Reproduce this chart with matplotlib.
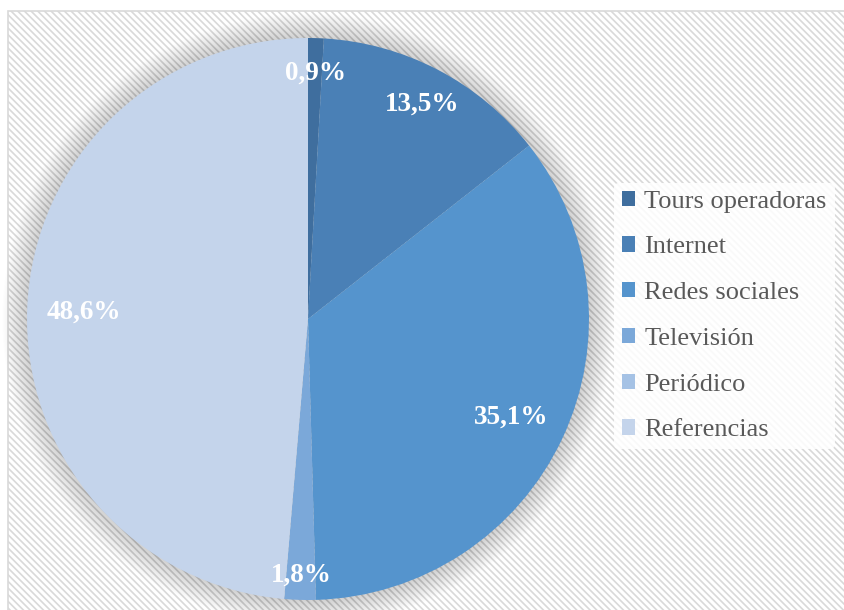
import numpy as np
import matplotlib.pyplot as plt
from matplotlib.patches import Rectangle, Circle

# --- DATA ---
CATEGORIES = ['Tours operadoras', 'Internet', 'Redes sociales',
              'Televisión', 'Periódico', 'Referencias']
VALUES = [0.9, 13.5, 35.1, 1.8, 0.0, 48.6]
COLORS = ['#3F6E9E', '#4A80B6', '#5594CD', '#7BA8D9', '#A5C2E5', '#C4D4EB']

# radial position of each percentage label (Excel "best fit" look)
LABEL_DIST = [0.885, 0.875, 0.80, 0.90, 0.86, 0.80]

W, H = 844, 610

plt.rcParams['font.family'] = ['Liberation Serif', 'DejaVu Serif']
plt.rcParams['hatch.linewidth'] = 1.2
plt.rcParams['hatch.color'] = '#EEEEEE'

fig = plt.figure(figsize=(W / 100, H / 100), dpi=100)
fig.patch.set_facecolor('white')

# background axes for the chart area with a light diagonal texture
bg = fig.add_axes([0, 0, 1, 1], zorder=-5)
bg.set_xlim(0, W)
bg.set_ylim(H, 0)
bg.axis('off')
bg.add_patch(Rectangle((8, 11), W, H, facecolor='white', edgecolor='#D9D9D9',
                       linewidth=1.2, hatch='\\\\\\\\\\'))

# pie axes: centre (308, 319), radius 281 px
r_px = 281
ax = fig.add_axes([(308 - r_px) / W, (H - 319 - r_px) / H,
                   2 * r_px / W, 2 * r_px / H])


def fmt_pct(p):
    if p < 0.05:
        return ''
    return f'{p:.1f}%'.replace('.', ',')


wedges, texts, autotexts = ax.pie(
    VALUES, colors=COLORS, startangle=90, counterclock=False,
    autopct=fmt_pct, pctdistance=1.0, radius=1.0,
    wedgeprops=dict(edgecolor='none'),
    textprops=dict(color='white', fontsize=19.5, fontweight='bold'))
for w in wedges:
    w.set_zorder(2)
for t, d in zip(autotexts, LABEL_DIST):
    x, y = t.get_position()
    t.set_position((x * d, y * d))
    t.set_va('center_baseline')
    t.set_zorder(3)

ax.set_xlim(-1, 1)
ax.set_ylim(-1, 1)
ax.set_aspect('equal')
ax.axis('off')

# soft glow shadow around the pie
for i in range(22):
    rr = 1.0 + 0.004 * (22 - i)
    ax.add_patch(Circle((0, 0), rr, facecolor='black', alpha=0.008,
                        edgecolor='none', clip_on=False, zorder=1))

leg = fig.legend(wedges, CATEGORIES, loc='center left',
                 bbox_to_anchor=(614 / W, 1 - 316 / H),
                 frameon=True, fontsize=19, handlelength=0.5,
                 handleheight=0.5, handletextpad=0.35, labelspacing=0.9,
                 borderpad=0.3, borderaxespad=0)
leg.get_frame().set_facecolor('white')
leg.get_frame().set_edgecolor('none')
leg.get_frame().set_alpha(0.85)
for t in leg.get_texts():
    t.set_color('#595959')

fig.savefig('out.png', dpi=100)
